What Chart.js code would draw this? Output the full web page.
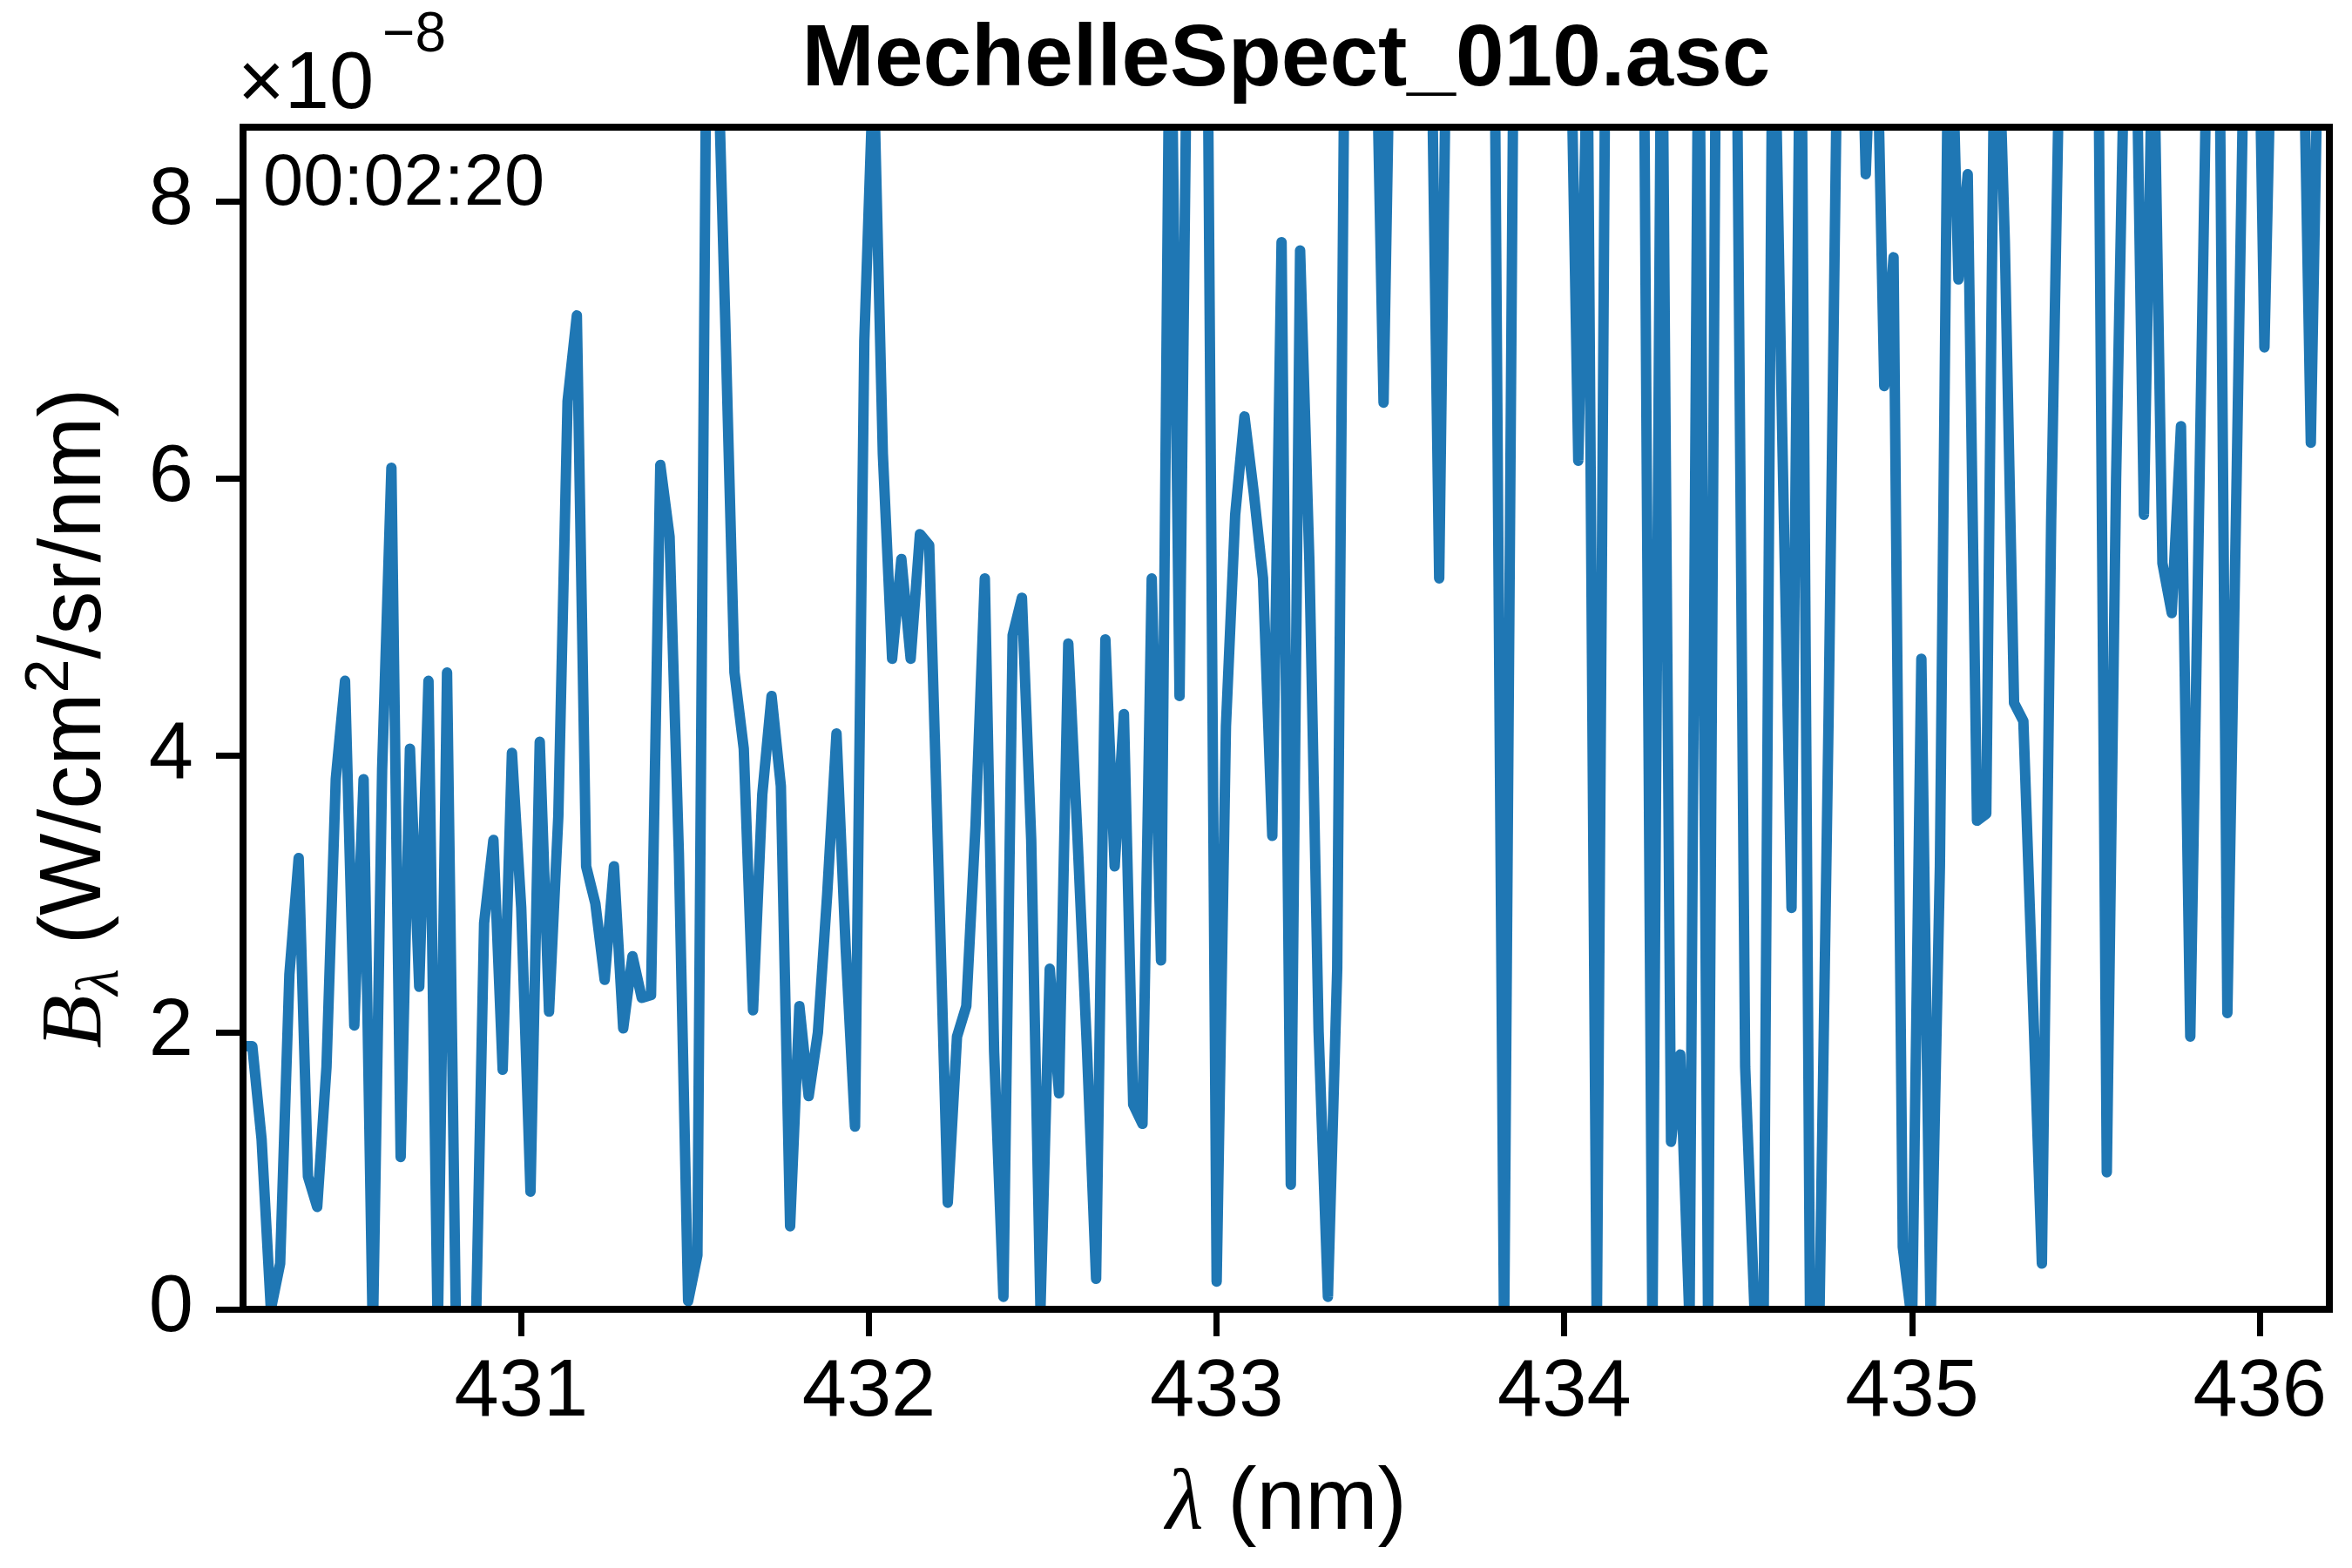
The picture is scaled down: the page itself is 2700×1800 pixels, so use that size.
<!DOCTYPE html>
<html>
<head>
<meta charset="utf-8">
<script src="https://cdn.jsdelivr.net/npm/chart.js@4.4.1/dist/chart.umd.min.js"></script>
<style>
html,body{margin:0;padding:0;background:#ffffff;}
canvas{display:block;}
</style>
</head>
<body>
<canvas id="c" width="2700" height="1800" style="width:2700px;height:1800px"></canvas>
<script>
// Wavelength (nm) of every spectrometer sample
const wavelengths = [
430.2000,430.2267,430.2533,430.2800,430.3067,430.3333,430.3600,430.3867,430.4133,430.4400,
430.4667,430.4933,430.5200,430.5467,430.5733,430.6000,430.6267,430.6533,430.6800,430.7067,
430.7333,430.7600,430.7867,430.8133,430.8400,430.8667,430.8933,430.9200,430.9467,430.9733,
431.0000,431.0267,431.0533,431.0800,431.1067,431.1333,431.1600,431.1867,431.2133,431.2400,
431.2667,431.2933,431.3200,431.3467,431.3733,431.4000,431.4267,431.4533,431.4800,431.5067,
431.5333,431.5600,431.5867,431.6133,431.6400,431.6667,431.6933,431.7200,431.7467,431.7733,
431.8000,431.8267,431.8533,431.8800,431.9067,431.9333,431.9600,431.9867,432.0133,432.0400,
432.0667,432.0933,432.1200,432.1467,432.1733,432.2000,432.2267,432.2533,432.2800,432.3067,
432.3333,432.3600,432.3867,432.4133,432.4400,432.4667,432.4933,432.5200,432.5467,432.5733,
432.6000,432.6267,432.6533,432.6800,432.7067,432.7333,432.7600,432.7867,432.8133,432.8400,
432.8667,432.8933,432.9200,432.9467,432.9733,433.0000,433.0267,433.0533,433.0800,433.1067,
433.1333,433.1600,433.1867,433.2133,433.2400,433.2667,433.2933,433.3200,433.3467,433.3733,
433.4000,433.4267,433.4533,433.4800,433.5067,433.5333,433.5600,433.5867,433.6133,433.6400,
433.6667,433.6933,433.7200,433.7467,433.7733,433.8000,433.8267,433.8533,433.8800,433.9067,
433.9333,433.9600,433.9867,434.0133,434.0400,434.0667,434.0933,434.1200,434.1467,434.1733,
434.2000,434.2267,434.2533,434.2800,434.3067,434.3333,434.3600,434.3867,434.4133,434.4400,
434.4667,434.4933,434.5200,434.5467,434.5733,434.6000,434.6267,434.6533,434.6800,434.7067,
434.7333,434.7600,434.7867,434.8133,434.8400,434.8667,434.8933,434.9200,434.9467,434.9733,
435.0000,435.0267,435.0533,435.0800,435.1067,435.1333,435.1600,435.1867,435.2133,435.2400,
435.2667,435.2933,435.3200,435.3467,435.3733,435.4000,435.4267,435.4533,435.4800,435.5067,
435.5333,435.5600,435.5867,435.6133,435.6400,435.6667,435.6933,435.7200,435.7467,435.7733,
435.8000,435.8267,435.8533,435.8800,435.9067,435.9333,435.9600,435.9867,436.0133,436.0400,
436.0667,436.0933,436.1200,436.1467,436.1733,436.2000
];

// Spectral radiance B_lambda, in units of 1e-8 W/cm^2/sr/nm
const intensity = [
1.9, 1.9, 1.23, 0.0, 0.33, 2.42, 3.26, 0.96, 0.74, 1.75,
3.83, 4.54, 2.05, 3.83, -0.2, 3.9, 6.08, 1.1, 4.05, 2.33,
4.54, -0.2, 4.6, -0.3, -1.0, -0.5, 2.79, 3.39, 1.73, 4.02,
2.9, 0.85, 4.1, 2.15, 3.56, 6.56, 7.18, 3.2, 2.93, 2.38,
3.2, 2.03, 2.55, 2.25, 2.27, 6.1, 5.58, 3.3, 0.06, 0.39,
9.5, 9.6, 7.15, 4.6, 4.05, 2.16, 3.72, 4.43, 3.78, 0.6,
2.19, 1.54, 2.0, 3.0, 4.16, 2.6, 1.32, 7.0, 9.0, 6.18,
4.7, 5.42, 4.7, 5.6, 5.52, 3.2, 0.77, 1.97, 2.19, 3.5,
5.28, 1.86, 0.09, 4.87, 5.14, 3.39, 0.0, 2.46, 1.56, 4.81,
3.4, 1.9, 0.22, 4.84, 3.2, 4.3, 1.48, 1.34, 5.28, 2.52,
10.0, 4.43, 10.5, 11.0, 9.5, 0.2, 4.21, 5.74, 6.45, 5.9,
5.28, 3.42, 7.71, 0.9, 7.65, 5.4, 2.0, 0.09, 2.46, 11.0,
12.5, 11.5, 10.0, 6.55, 10.5, 12.0, 11.0, 12.0, 10.0, 5.28,
10.5, 12.0, 13.0, 11.0, 12.0, 9.0, -0.2, 9.0, 11.0, 12.5,
11.0, 13.0, 12.0, 10.0, 6.13, 9.2, -0.2, 10.0, 12.0, 11.0,
12.5, 10.0, -0.2, 10.0, 1.21, 1.84, -0.1, 10.0, -0.1, 11.0,
12.0, 10.0, 1.75, 0.0, 0.0, 10.0, 6.3, 2.9, 10.0, -0.1,
-0.1, 4.3, 9.5, 12.0, 11.0, 8.2, 10.0, 6.67, 7.6, 0.45,
-0.1, 4.7, -0.1, 3.2, 10.0, 7.44, 8.2, 3.53, 3.58, 10.0,
7.71, 4.38, 4.25, 2.3, 0.33, 5.7, 9.5, 12.0, 11.0, 12.0,
10.0, 0.99, 6.0, 9.5, 10.0, 5.74, 9.5, 5.39, 5.03, 6.38,
1.97, 6.0, 10.0, 10.5, 2.14, 6.0, 10.0, 11.0, 6.95, 10.0,
12.0, 11.0, 10.0, 6.26, 10.0, 11.0
];

const xTicks = [431, 432, 433, 434, 435, 436];
const yTicks = [0, 2, 4, 6, 8];
const xRange = [430.2, 436.2];
const yRange = [0, 8.54];
const chartTitle = 'MechelleSpect_010.asc';
const timeStamp = '00:02:20';
const offsetBase = '\u00d710';
const offsetExp = '\u22128';

const SANS = '"Liberation Sans", Arial, Helvetica, sans-serif';
const SERIF = '"Liberation Serif", "Times New Roman", serif';

const points = wavelengths.map((w, i) => ({ x: w, y: intensity[i] }));

function drawRuns(ctx, runs, cx, y) {
  let total = 0;
  runs.forEach(r => { ctx.font = r.f; r.w = ctx.measureText(r.t).width; total += r.w; });
  let x = cx - total / 2;
  ctx.textAlign = 'left';
  runs.forEach(r => { ctx.font = r.f; ctx.fillText(r.t, x, y + r.dy); x += r.w; });
}

const mplText = {
  id: 'mplText',
  afterDatasetsDraw(chart) {
    const { ctx, chartArea: a } = chart;
    ctx.save();
    ctx.strokeStyle = '#000';
    ctx.lineWidth = 8;
    ctx.lineJoin = 'miter';
    ctx.strokeRect(a.left, a.top, a.right - a.left, a.bottom - a.top);
    ctx.restore();
  },
  afterDraw(chart) {
    const { ctx, chartArea: a } = chart;
    const cx = (a.left + a.right) / 2;
    ctx.save();
    ctx.fillStyle = '#000';
    ctx.textBaseline = 'alphabetic';
    // title
    ctx.font = 'bold 100px ' + SANS;
    ctx.textAlign = 'center';
    ctx.fillText(chartTitle, cx, 98);
    // offset text
    ctx.textAlign = 'left';
    ctx.font = '92px ' + SANS;
    ctx.fillText(offsetBase, a.left - 6, 124);
    const wBase = ctx.measureText(offsetBase).width;
    ctx.font = '64px ' + SANS;
    ctx.fillText(offsetExp, a.left - 6 + wBase + 10, 59);
    // time stamp
    ctx.font = '83px ' + SANS;
    ctx.fillText(timeStamp, a.left + 23, 235);
    // x label
    drawRuns(ctx, [
      { t: '\u03bb', f: 'italic 100px ' + SERIF, dy: 0 },
      { t: ' (nm)', f: '100px ' + SANS, dy: 0 }
    ], cx, 1755);
    // y label (rotated)
    ctx.translate(115, (a.top + a.bottom) / 2);
    ctx.rotate(-Math.PI / 2);
    drawRuns(ctx, [
      { t: 'B', f: 'italic 100px ' + SERIF, dy: 0 },
      { t: '\u03bb', f: 'italic 70px ' + SERIF, dy: 20 },
      { t: ' (W/cm', f: '100px ' + SANS, dy: 0 },
      { t: '2', f: '70px ' + SANS, dy: -37 },
      { t: '/sr/nm)', f: '100px ' + SANS, dy: 0 }
    ], 0, 0);
    ctx.restore();
  }
};

new Chart(document.getElementById('c'), {
  type: 'line',
  data: {
    datasets: [{
      data: points,
      borderColor: '#1f77b4',
      borderWidth: 12,
      pointRadius: 0,
      tension: 0,
      fill: false,
      borderJoinStyle: 'round',
      borderCapStyle: 'round',
      clip: 0
    }]
  },
  options: {
    responsive: false,
    animation: false,
    devicePixelRatio: 1,
    events: [],
    layout: { padding: { left: 0, right: 26, top: 146, bottom: 0 } },
    plugins: { legend: { display: false }, title: { display: false }, tooltip: { enabled: false } },
    scales: {
      x: {
        type: 'linear',
        min: xRange[0],
        max: xRange[1],
        afterBuildTicks: s => { s.ticks = xTicks.map(v => ({ value: v })); },
        afterFit: s => { s.height = 297; },
        grid: { drawOnChartArea: false, drawTicks: true, tickLength: 31, tickWidth: 7, tickColor: '#000' },
        border: { display: false },
        ticks: { font: { family: SANS, size: 92 }, color: '#000', padding: 10, maxRotation: 0, autoSkip: false, callback: v => String(v) }
      },
      y: {
        type: 'linear',
        min: yRange[0],
        max: yRange[1],
        afterBuildTicks: s => { s.ticks = yTicks.map(v => ({ value: v })); },
        afterFit: s => { s.width = 279; },
        grid: { drawOnChartArea: false, drawTicks: true, tickLength: 31, tickWidth: 7, tickColor: '#000' },
        border: { display: false },
        ticks: { font: { family: SANS, size: 92 }, color: '#000', padding: 26, autoSkip: false, callback: v => String(v) }
      }
    }
  },
  plugins: [mplText]
});
</script>
</body>
</html>
